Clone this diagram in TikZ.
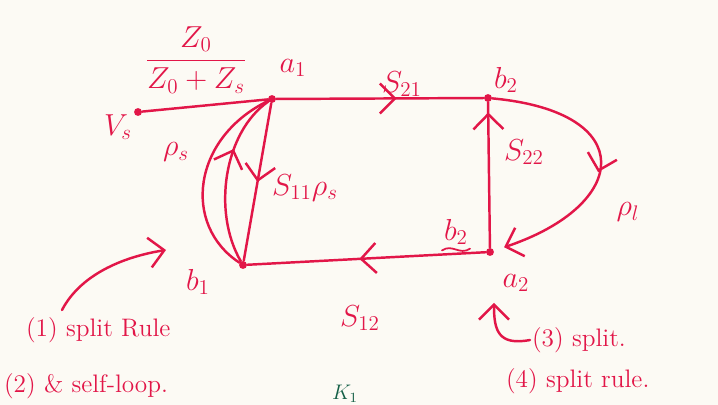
\documentclass[tikz,border=0pt]{standalone}
\usepackage{amsmath,amssymb}
\usepackage{xcolor}
\usepackage{tikz}
\usetikzlibrary{arrows.meta, decorations.markings}

\definecolor{ink}{RGB}{226,22,72}
\definecolor{paper}{RGB}{252,250,244}
\definecolor{pencil}{RGB}{20,95,70}

\begin{document}
\begin{tikzpicture}[x=0.02cm, y=-0.02cm, font=\LARGE,
    edge/.style={draw=ink, line width=1.4pt, line cap=round},
    barb/.style={-{Straight Barb[length=3mm, line width=1.4pt]}},
    mid/.style={postaction={decorate}, decoration={markings,
        mark=at position #1 with {\arrow{Straight Barb[length=3mm, line width=1.4pt]}}}},
    pt/.style={circle, fill=ink, inner sep=0pt, minimum size=4.5pt},
    lbl/.style={text=ink, inner sep=1pt},
    note/.style={text=ink, inner sep=1pt, anchor=west, font=\Large}]

    \fill[paper] (0,0) rectangle (718,405);

    % nodes of the flow graph
    \node[pt] (vs) at (138,112) {};
    \node[pt] (a1) at (272,99)  {};
    \node[pt] (b2) at (488,98)  {};
    \node[pt] (a2) at (490,252) {};
    \node[pt] (b1) at (243,265) {};

    \node[lbl] (vsl) at (118,127) {$V_s$};
    \node[lbl] (a1l) at (293,68)  {$a_1$};
    \node[lbl] (b2l) at (506,80)  {$b_2$};
    \node[lbl] (a2l) at (516,283) {$a_2$};
    \node[lbl] (b1l) at (198,282) {$b_1$};

    % branches
    \draw[edge] (vs) -- (a1);
    \node[lbl] (gain) at (196,60) {$\dfrac{Z_0}{Z_0+Z_s}$};

    \draw[edge, mid=0.58] (a1) -- (b2);
    \node[lbl] (s21) at (402,84) {$S_{21}$};

    \draw[edge, mid=0.93] (a2) -- (b2);
    \node[lbl] (s22) at (524,152) {$S_{22}$};

    \draw[edge, mid=0.52, barb, shorten >=6pt]
      (b2) .. controls (640,112) and (630,205) .. (a2);
    \node[lbl] (rhol) at (628,212) {$\rho_l$};

    \draw[edge, mid=0.53] (a2) -- (b1);
    \node[lbl] (s12) at (360,318) {$S_{12}$};
    \node[lbl] (b2n) at (456,232) {$b_2$};
    \draw[edge, line width=1pt] ([yshift=-2pt]b2n.south west)
      .. controls ([xshift=6pt,yshift=2pt]b2n.south west) and ([xshift=-6pt,yshift=-5pt]b2n.south east)
      .. ([yshift=-1pt]b2n.south east);

    \draw[edge, mid=0.5] (a1) -- (b1);
    \node[lbl] (s11) at (305,188) {$S_{11}\rho_s$};

    \draw[edge, mid=0.66] (b1) .. controls (212,212) and (224,132) .. (a1);
    \draw[edge] (b1) .. controls (182,225) and (192,138) .. (a1);
    \node[lbl] (rhos) at (176,152) {$\rho_s$};

    % notes
    \node[note] (n1) at (24,330) {(1) split Rule};
    \node[note] (n2) at (2,386)  {(2) \& self-loop.};
    \node[note] (n3) at (530,340) {(3) split.};
    \node[note] (n4) at (504,381) {(4) split rule.};
    \coordinate (t1) at (166,250);
    \coordinate (t3) at (494,303);
    \draw[edge, barb] (62,310) .. controls (82,272) and (128,256) .. (t1);
    \draw[edge, barb] (n3.west) .. controls (498,346) and (494,330) .. (t3);

    \node[text=pencil, font=\large, anchor=south west, inner sep=1pt] (k) at (330,405) {$K_1$};
\end{tikzpicture}
\end{document}
